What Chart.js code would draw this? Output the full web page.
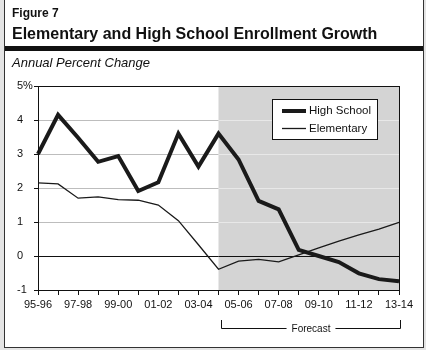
<!DOCTYPE html>
<html>
<head>
<meta charset="utf-8">
<script src="https://cdn.jsdelivr.net/npm/chart.js@4/dist/chart.umd.min.js"></script>
<style>
  html, body { margin: 0; padding: 0; background: #e4e4e4; }
  canvas { display: block; }
</style>
</head>
<body>
<canvas id="enrollChart" width="426" height="350"></canvas>
<script>
const years = ['95-96', '96-97', '97-98', '98-99', '99-00', '00-01', '01-02', '02-03', '03-04', '04-05',
  '05-06', '06-07', '07-08', '08-09', '09-10', '10-11', '11-12', '12-13', '13-14'];
const highSchool = [3.0, 4.15, 3.48, 2.77, 2.94, 1.91, 2.17, 3.6, 2.63, 3.6,
  2.84, 1.62, 1.37, 0.18, 0.0, -0.18, -0.51, -0.68, -0.74];
const elementary = [2.15, 2.12, 1.7, 1.74, 1.66, 1.64, 1.5, 1.04, 0.33, -0.39,
  -0.15, -0.1, -0.17, 0.03, 0.24, 0.44, 0.62, 0.79, 0.99];
const forecastStart = 9;
const yTicks = [-1, 0, 1, 2, 3, 4, 5];

const font = '"Liberation Sans", Arial, sans-serif';

// frame, headings, shading, legend and forecast bracket
const decor = {
  id: 'decor',
  beforeDraw(chart) {
    const c = chart.ctx;
    c.save();
    c.fillStyle = '#e4e4e4';
    c.fillRect(0, 0, chart.width, chart.height);
    c.fillStyle = '#ffffff';
    c.fillRect(4, -2, 420, 350);
    c.strokeStyle = '#333';
    c.lineWidth = 1;
    c.strokeRect(4.5, -2, 419, 349.5);

    c.fillStyle = '#111';
    c.textBaseline = 'alphabetic';
    c.font = 'bold 12px ' + font;
    c.fillText('Figure 7', 12, 17);
    c.font = 'bold 16px ' + font;
    c.fillText('Elementary and High School Enrollment Growth', 12, 39);
    c.fillRect(5, 46, 418, 5);
    c.font = 'italic 13px ' + font;
    c.fillText('Annual Percent Change', 12, 67);
    c.restore();
  },
  beforeDatasetsDraw(chart) {
    const c = chart.ctx;
    const { right, top, bottom } = chart.chartArea;
    const x = chart.scales.x, y = chart.scales.y;
    const sx = x.getPixelForValue(forecastStart);
    c.save();
    c.fillStyle = '#d4d4d4';
    c.fillRect(sx, top, right - sx, bottom - top);
    c.lineWidth = 1;
    yTicks.forEach(v => {
      if (v <= -1 || v >= 5) return;
      const py = Math.round(y.getPixelForValue(v)) + 0.5;
      c.strokeStyle = v === 0 ? '#111' : '#e8e8e8';
      c.beginPath();
      c.moveTo(sx, py);
      c.lineTo(right, py);
      c.stroke();
    });
    c.restore();
  },
  afterDatasetsDraw(chart) {
    const c = chart.ctx;
    const { left, right, top, bottom } = chart.chartArea;
    const x = chart.scales.x;
    c.save();
    c.strokeStyle = '#111';
    c.lineWidth = 1;
    c.strokeRect(left + 0.5, top + 0.5, right - left, bottom - top);

    // legend
    const lx = 272, ly = 99;
    c.fillStyle = '#fff';
    c.fillRect(lx, ly, 105, 40);
    c.strokeRect(lx + 0.5, ly + 0.5, 105, 40);
    c.font = '11.5px ' + font;
    c.textBaseline = 'middle';
    chart.data.datasets.forEach((ds, i) => {
      const yy = ly + 12 + i * 17.5;
      c.beginPath();
      c.lineWidth = ds.borderWidth;
      c.strokeStyle = ds.borderColor;
      c.moveTo(lx + 10, yy);
      c.lineTo(lx + 34, yy);
      c.stroke();
      c.fillStyle = '#111';
      c.fillText(ds.label, lx + 37, yy);
    });

    // forecast bracket
    const x0 = Math.round(x.getPixelForValue(forecastStart)) + 2.5;
    const x1 = Math.round(x.getPixelForValue(years.length - 1)) + 1.5;
    const by = 328.5, ty = 320;
    const mid = (x0 + x1) / 2;
    c.font = '10px ' + font;
    const tw = c.measureText('Forecast').width / 2 + 5;
    c.lineWidth = 1;
    c.strokeStyle = '#111';
    c.beginPath();
    c.moveTo(x0, ty); c.lineTo(x0, by); c.lineTo(mid - tw, by);
    c.moveTo(mid + tw, by); c.lineTo(x1, by); c.lineTo(x1, ty);
    c.stroke();
    c.fillStyle = '#111';
    c.textAlign = 'center';
    c.fillText('Forecast', mid, by + 0.5);
    c.restore();
  }
};

new Chart(document.getElementById('enrollChart'), {
  type: 'line',
  data: {
    labels: years,
    datasets: [
      { label: 'High School', data: highSchool, borderColor: '#1a1a1a', borderWidth: 4, pointRadius: 0, tension: 0, borderJoinStyle: 'miter' },
      { label: 'Elementary', data: elementary, borderColor: '#1a1a1a', borderWidth: 1.3, pointRadius: 0, tension: 0 }
    ]
  },
  options: {
    responsive: false,
    animation: false,
    devicePixelRatio: 1,
    layout: { padding: { left: 17, top: 86, right: 27, bottom: 0 } },
    plugins: { legend: { display: false }, tooltip: { enabled: false } },
    scales: {
      x: {
        offset: false,
        grid: { drawOnChartArea: false, color: '#111', tickLength: 5 },
        border: { color: '#111' },
        ticks: {
          autoSkip: false, maxRotation: 0, color: '#111', padding: 3,
          font: { family: font, size: 11 },
          callback: (v, i) => (i % 2 === 0 ? years[i] : '')
        },
        afterFit: (s) => { s.height = 60; }
      },
      y: {
        min: -1, max: 5,
        afterBuildTicks: (s) => { s.ticks = yTicks.map(v => ({ value: v })); },
        grid: {
          color: (ctx) => (ctx.tick && (ctx.tick.value === 0 || ctx.tick.value === 5) ? '#111' : '#bdbdbd'),
          tickColor: '#111', tickLength: 4
        },
        border: { color: '#111' },
        ticks: {
          color: '#111', padding: 8, crossAlign: 'far',
          font: { family: font, size: 11 },
          callback: (v) => (v === 5 ? '5%' : String(v))
        },
        afterFit: (s) => { s.width = 21; }
      }
    }
  },
  plugins: [decor]
});
</script>
</body>
</html>
